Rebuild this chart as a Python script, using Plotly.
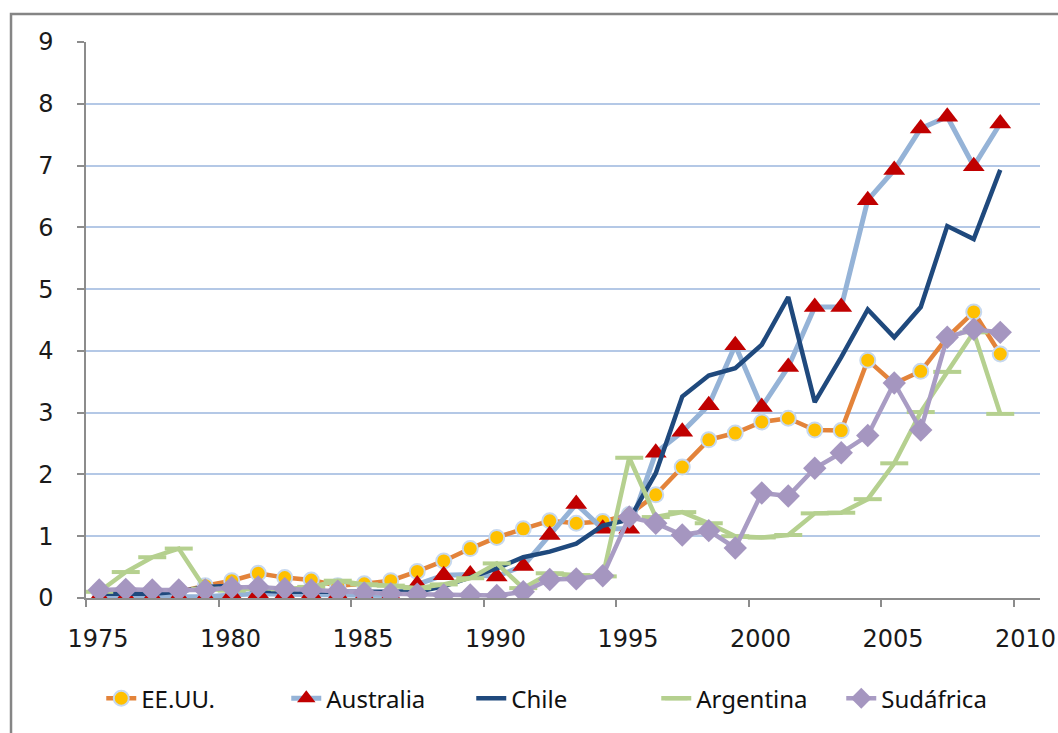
import plotly.graph_objects as go

years = list(range(1975, 2010))

eeuu = [0.10, 0.10, 0.10, 0.10, 0.20, 0.28, 0.40, 0.33, 0.29, 0.20,
        0.23, 0.28, 0.43, 0.60, 0.80, 0.98, 1.12, 1.25, 1.21, 1.24,
        1.35, 1.67, 2.12, 2.56, 2.67, 2.85, 2.91, 2.72, 2.71, 3.85,
        3.47, 3.67, 4.22, 4.63, 3.95]

australia = [0.02, 0.02, 0.02, 0.02, 0.02, 0.05, 0.07, 0.06, 0.06, 0.05,
             0.04, 0.04, 0.22, 0.37, 0.38, 0.35, 0.52, 1.02, 1.52, 1.12,
             1.12, 2.35, 2.69, 3.12, 4.09, 3.09, 3.74, 4.71, 4.71, 6.44,
             6.93, 7.60, 7.79, 6.99, 7.68]

chile = [0.07, 0.07, 0.07, 0.10, 0.18, 0.20, 0.12, 0.10, 0.10, 0.10,
         0.10, 0.10, 0.10, 0.19, 0.33, 0.48, 0.66, 0.75, 0.88, 1.17,
         1.27, 2.02, 3.26, 3.60, 3.72, 4.10, 4.87, 3.17, 3.90, 4.67,
         4.22, 4.71, 6.02, 5.81, 6.93]

argentina = [0.10, 0.42, 0.66, 0.80, 0.15, 0.12, 0.16, 0.14, 0.18, 0.28,
             0.22, 0.20, 0.16, 0.22, 0.32, 0.56, 0.16, 0.40, 0.37, 0.35,
             2.27, 1.31, 1.39, 1.21, 1.00, 0.98, 1.02, 1.37, 1.38, 1.60,
             2.18, 3.01, 3.66, 4.30, 2.98]

sudafrica = [0.13, 0.14, 0.13, 0.13, 0.13, 0.17, 0.18, 0.15, 0.13, 0.11,
             0.08, 0.07, 0.06, 0.05, 0.05, 0.04, 0.10, 0.30, 0.31, 0.36,
             1.31, 1.21, 1.02, 1.09, 0.81, 1.70, 1.65, 2.10, 2.35, 2.63,
             3.48, 2.72, 4.22, 4.35, 4.30]

tick_labels = ["1975", "1980", "1985", "1990", "1995", "2000", "2005", "2010"]
y_ticks = list(range(0, 10))

fig = go.Figure()

fig.add_trace(go.Scatter(
    x=years, y=eeuu, name="EE.UU.", mode="lines+markers",
    line=dict(color="#E3833A", width=4.5),
    marker=dict(symbol="circle", size=15, color="#FFC000",
                line=dict(color="#C6D8EF", width=2))))

fig.add_trace(go.Scatter(
    x=years, y=australia, name="Australia", mode="lines+markers",
    line=dict(color="#95B3D7", width=5),
    marker=dict(symbol="triangle-up", size=19, color="#C00000",
                line=dict(width=0))))

fig.add_trace(go.Scatter(
    x=years, y=chile, name="Chile", mode="lines",
    line=dict(color="#1F497D", width=4.5)))

fig.add_trace(go.Scatter(
    x=years, y=argentina, name="Argentina", mode="lines+markers",
    line=dict(color="#B5D08F", width=4.5),
    marker=dict(symbol="line-ew", size=20, color="#B5D08F",
                line=dict(color="#B5D08F", width=4))))

fig.add_trace(go.Scatter(
    x=years, y=sudafrica, name="Sudáfrica", mode="lines+markers",
    line=dict(color="#A99CC4", width=4.5),
    marker=dict(symbol="diamond", size=18, color="#A596C0",
                line=dict(width=0))))

tick_pos = [int(t) - 0.5 for t in tick_labels]

fig.update_layout(
    width=1058, height=733,
    margin=dict(l=86, r=18, t=42, b=135),
    paper_bgcolor="white", plot_bgcolor="white",
    showlegend=True,
    legend=dict(orientation="h", x=0.016, xanchor="left", y=-0.181, yanchor="middle",
                font=dict(family="Noto Sans", size=24, color="#111"),
                itemwidth=30, entrywidth=140),
    xaxis=dict(range=[1974.5, 2010.5], tickmode="array", tickvals=tick_pos, ticktext=tick_labels,
               automargin=False, ticklabeloverflow="allow",
               showgrid=False, zeroline=False, showline=True, linecolor="#8C8C8C", linewidth=1.5,
               ticks="outside", ticklen=7, tickcolor="#8C8C8C", tickwidth=1.5,
               ticklabelshift=12, ticklabelstandoff=11,
               tickfont=dict(family="DejaVu Sans", size=24, color="#1a1a1a")),
    yaxis=dict(range=[0, 9], tickmode="array", tickvals=y_ticks,
               automargin=False,
               showgrid=True, gridcolor="#B4C8E6", gridwidth=2, zeroline=False,
               showline=True, linecolor="#8C8C8C", linewidth=1.5,
               ticks="outside", ticklen=7, tickcolor="#8C8C8C", tickwidth=1.5,
               ticklabelstandoff=19,
               tickfont=dict(family="DejaVu Sans", size=24, color="#1a1a1a")),
    shapes=[dict(type="rect", xref="paper", yref="paper",
                 x0=-0.0786, x1=1.08, y0=-0.30, y1=1.0504,
                 line=dict(color="#858585", width=2.5), fillcolor="rgba(0,0,0,0)",
                 layer="below")],
)

fig.write_html("out.html",
               config={"displayModeBar": False},
               post_script="document.body.style.margin='0';document.body.style.overflow='hidden';")
